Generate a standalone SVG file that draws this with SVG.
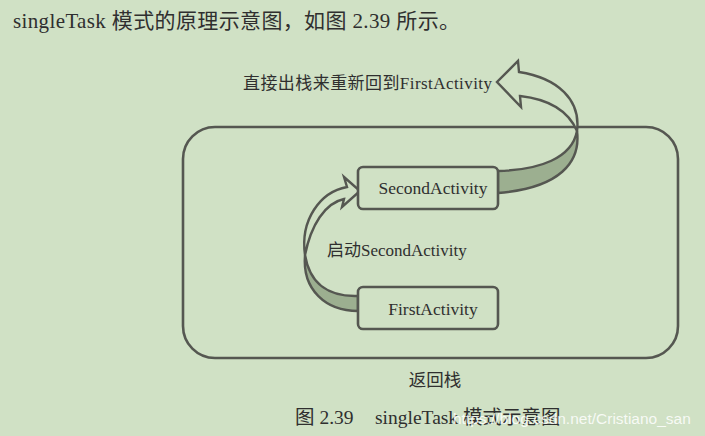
<svg xmlns="http://www.w3.org/2000/svg" width="705" height="436" viewBox="0 0 705 436">
<style>
.bg{fill:#d0e1c5}
.t{font-family:"Liberation Serif","Noto Sans CJK SC",serif;fill:#2f2f2f}
.box{fill:#d0e1c5;stroke:#555751;stroke-width:2.6}
.arr{fill:#d0e1c5;stroke:#555751;stroke-width:2.4;stroke-linejoin:miter}
.rib{fill:#9caf90;stroke:#555751;stroke-width:2.4}
.wm{font-family:"Liberation Sans",Arial,sans-serif;fill:#ffffff;fill-opacity:0.85}
</style>
<rect class="bg" x="0" y="0" width="705" height="436"/>
<text class="t" x="13" y="28" font-size="21" textLength="447" lengthAdjust="spacing">singleTask 模式的原理示意图，如图 2.39 所示。</text>

<g id="stack">
  <rect class="box" x="183" y="127" width="495" height="231" rx="32" ry="32" fill="none"/>
  <text class="t" x="435" y="386" font-size="17.5" text-anchor="middle">返回栈</text>
</g>

<g id="connectors">
  <!-- big return arrow -->
  <path class="rib" d="M498 171 C540 170 572 158 577 131 C581 162 560 188 498 193 Z"/>
  <path class="arr" d="M577 131 C581 100 558 78 519 72 L518 61 L497 82 L521 107 L520 96 C547 99 568 110 577 131 Z"/>
  <text class="t" x="243" y="89" font-size="17" textLength="249" lengthAdjust="spacing">直接出栈来重新回到FirstActivity</text>
  <!-- launch arrow -->
  <path class="rib" d="M305 255 C302 290 326 311 358 311 L358 296 C330 297 310 285 305 255 Z"/>
  <path class="arr" d="M305 255 C300 220 320 192 347 187 L344 177 L360 191 L342 207 L344 199 C325 203 311 225 305 255 Z"/>
  <text class="t" x="327" y="256" font-size="17">启动SecondActivity</text>
</g>

<g id="second">
  <rect class="box" x="358" y="167" width="140" height="42" rx="5" ry="5"/>
  <text class="t" x="433" y="194" font-size="17.5" text-anchor="middle">SecondActivity</text>
</g>

<g id="first">
  <rect class="box" x="358" y="287" width="140" height="42" rx="5" ry="5"/>
  <text class="t" x="433" y="315" font-size="17.5" text-anchor="middle">FirstActivity</text>
</g>

<text class="t" x="295" y="424" font-size="19.5">图 2.39<tspan x="375">singleTask 模式示意图</tspan></text>
<text class="wm" x="453" y="424" font-size="15.5">https://blog.csdn.net/Cristiano_san</text>
</svg>
